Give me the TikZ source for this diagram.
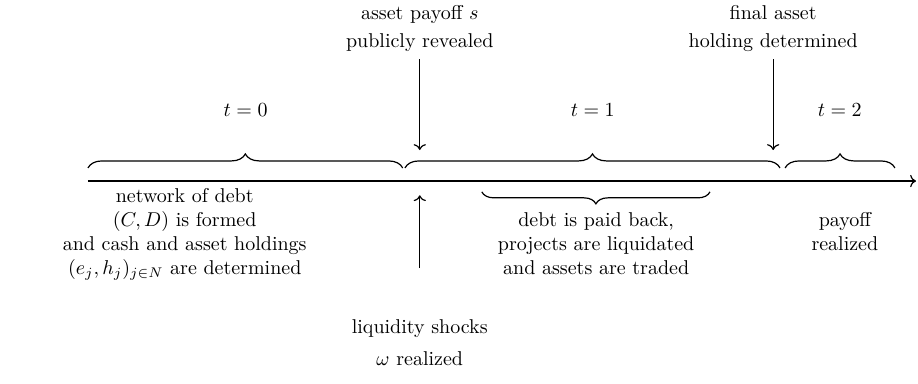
\documentclass[tikz,border=0pt]{standalone}
\usepackage{tikz}
\usetikzlibrary{arrows.meta,positioning,decorations.pathreplacing,calc}

\begin{document}
\begin{tikzpicture}[
  semithick,
  brc/.style={decorate,decoration={brace,amplitude=7pt}},
  brcdown/.style={decorate,decoration={brace,amplitude=6pt,mirror}},
  txt/.style={align=center},
  arr/.style={->}
]
\useasboundingbox (-1.546,-3.55) rectangle (14.585,3.181);

% time line
\coordinate (start) at (0,0);
\coordinate (stop) at (14.55,0);
\draw[arr] (start) -- (stop);

% the three periods
\draw[brc] (0,0.23) -- (5.53,0.23);
\draw[brc] (5.57,0.23) -- (12.16,0.23);
\draw[brc] (12.25,0.23) -- (14.18,0.23);
\node (per0) at (2.77,1.25) {$t=0$};
\node (per1) at (8.87,1.25) {$t=1$};
\node (per2) at (13.21,1.25) {$t=2$};

% events above the line
\node[txt,anchor=south] (payoff) at (5.83,2.14) {asset payoff $s$\\[2pt]publicly revealed};
\coordinate (payoffhit) at (5.83,0.545);
\draw[arr] (payoff) -- (payoffhit);
\node[txt,anchor=south] (final) at (12.04,2.14) {final asset\\[2pt]holding determined};
\coordinate (finalhit) at (12.04,0.545);
\draw[arr] (final) -- (finalhit);

% events below the line
\node[txt,anchor=north] (network) at (1.70,0.0) {network of debt\\$(C,D)$ is formed\\and cash and asset holdings\\$(e_j,h_j)_{j\in N}$ are determined};
\coordinate (shockfoot) at (5.83,-1.53);
\coordinate (shockhit) at (5.83,-0.25);
\draw[arr] (shockfoot) -- (shockhit);
\node[txt,anchor=north] (shock) at (5.83,-2.30) {liquidity shocks\\[4pt]$\omega$ realized};

\draw[brcdown] (6.92,-0.19) -- (10.93,-0.19);
\node[txt,anchor=north] (repay) at (8.93,-0.42) {debt is paid back,\\projects are liquidated\\and assets are traded};
\node[txt,anchor=north] (realize) at (13.30,-0.42) {payoff\\realized};
\end{tikzpicture}
\end{document}
